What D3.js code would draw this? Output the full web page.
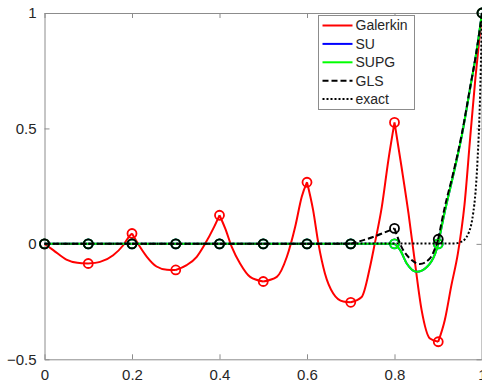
<!DOCTYPE html>
<html>
<head>
<meta charset="utf-8">
<script src="https://cdn.jsdelivr.net/npm/d3@7"></script>
<style>
    html, body { margin: 0; padding: 0; background: #fff; overflow: hidden; }
    svg { display: block; font-family: "Liberation Sans", Arial, Helvetica, sans-serif; }
</style>
</head>
<body>
<svg id="chart"></svg>
<script>
const WIDTH = 482;
const HEIGHT = 385;

// nodes of the mesh
const nodes = [0, 0.1, 0.2, 0.3, 0.4, 0.5, 0.6, 0.7, 0.8, 0.9, 1];

// nodal values
const galerkinNodes = [0, -0.085, 0.045, -0.113, 0.124, -0.163, 0.267, -0.253, 0.526, -0.424, 1];
const suNodes = [0, 0, 0, 0, 0, 0, 0, 0, 0, 0, 1];
const supgNodes = [0, 0, 0, 0, 0, 0, 0, 0, 0, 0, 1];
const glsNodes = [0, 0, 0, 0, 0, 0, 0, 0, 0.067, 0.02, 1];

// curves between the nodes, [x, y]
const galerkinCurve = [
    [0, 0], [0.02, -0.027], [0.05, -0.068], [0.075, -0.082], [0.1, -0.085],
    [0.127, -0.078], [0.157, -0.049], [0.18, -0.006], [0.195, 0.036], [0.2, 0.045],
    [0.211, 0.009], [0.234, -0.056], [0.256, -0.098], [0.28, -0.112], [0.3, -0.113],
    [0.325, -0.092], [0.348, -0.056], [0.367, 0], [0.386, 0.067], [0.4, 0.124],
    [0.413, 0.067], [0.428, -0.013], [0.447, -0.085], [0.47, -0.143], [0.5, -0.163],
    [0.531, -0.143], [0.554, -0.056], [0.573, 0.074], [0.588, 0.204], [0.6, 0.267],
    [0.614, 0.146], [0.626, 0.002], [0.641, -0.128], [0.66, -0.215], [0.683, -0.25], [0.7, -0.253],
    [0.725, -0.23], [0.744, -0.1], [0.755, 0.002], [0.771, 0.16], [0.786, 0.363], [0.8, 0.526],
    [0.816, 0.334], [0.832, 0.132], [0.847, -0.085], [0.862, -0.287], [0.881, -0.41], [0.9, -0.424],
    [0.915, -0.33], [0.93, -0.18], [0.945, -0.04], [0.96, 0.17], [0.973, 0.46], [0.985, 0.72], [1, 1]
];
const supgCurve = [
    [0, 0], [0.1, 0], [0.2, 0], [0.3, 0], [0.4, 0], [0.5, 0], [0.6, 0], [0.7, 0], [0.8, 0],
    [0.813, -0.027], [0.828, -0.085], [0.851, -0.121], [0.874, -0.1], [0.893, -0.042], [0.9, 0],
    [0.915, 0.14], [0.934, 0.295], [0.954, 0.47], [0.973, 0.675], [0.988, 0.84], [1, 1]
];
const suCurve = supgCurve;
const glsCurve = [
    [0, 0], [0.1, 0], [0.2, 0], [0.3, 0], [0.4, 0], [0.5, 0], [0.6, 0], [0.7, 0],
    [0.751, 0.03], [0.8, 0.067],
    [0.816, -0.013], [0.835, -0.063], [0.858, -0.087], [0.881, -0.063], [0.9, 0.02],
    [0.915, 0.16], [0.934, 0.305], [0.954, 0.478], [0.973, 0.68], [0.988, 0.84], [1, 1]
];
const exactCurve = [
    [0, 0], [0.94, 0.002], [0.95, 0.007], [0.96, 0.018], [0.97, 0.05], [0.975, 0.08],
    [0.98, 0.135], [0.985, 0.22], [0.99, 0.37], [0.995, 0.6], [1, 1]
];

const xTicks = [0, 0.2, 0.4, 0.6, 0.8, 1];
const yTicks = [-0.5, 0, 0.5, 1];
const legendLabels = ['Galerkin', 'SU', 'SUPG', 'GLS', 'exact'];

const LEFT = 44.5, RIGHT = 482, TOP = 13, BOTTOM = 359.3;

const svg = d3.select('#chart')
    .attr('width', WIDTH)
    .attr('height', HEIGHT);

const xScale = d3.scaleLinear().domain([0, 1]).range([LEFT, RIGHT]);
const yScale = d3.scaleLinear().domain([-0.5, 1]).range([BOTTOM, TOP]);

const AXIS_COLOR = '#8c8c8c';
const TEXT_COLOR = '#262626';

// box with inside ticks
const axes = svg.append('g');
function styleAxis(g) {
    g.select('.domain').attr('stroke', AXIS_COLOR);
    g.selectAll('.tick line').attr('stroke', AXIS_COLOR);
    g.selectAll('.tick text').attr('fill', TEXT_COLOR).style('font-size', '15px');
}
axes.append('g')
    .attr('transform', 'translate(0,' + BOTTOM + ')')
    .call(d3.axisBottom(xScale).tickValues(xTicks).tickSizeInner(-5).tickSizeOuter(0).tickPadding(10)
        .tickFormat(d3.format('')))
    .call(styleAxis)
    .attr('font-family', null);
axes.append('g')
    .attr('transform', 'translate(' + LEFT + ',0)')
    .call(d3.axisLeft(yScale).tickValues(yTicks).tickSizeInner(-5).tickSizeOuter(0).tickPadding(8)
        .tickFormat(d3.format('')))
    .call(styleAxis)
    .attr('font-family', null);
axes.append('g')
    .attr('transform', 'translate(0,' + TOP + ')')
    .call(d3.axisTop(xScale).tickValues(xTicks).tickSizeInner(-5).tickSizeOuter(0).tickFormat(''))
    .call(styleAxis);
axes.append('g')
    .attr('transform', 'translate(' + (RIGHT - 0.5) + ',0)')
    .call(d3.axisRight(yScale).tickValues(yTicks).tickSizeInner(-5).tickSizeOuter(0).tickFormat(''))
    .call(styleAxis);

// one smooth piece per element, so peaks keep their corners
function elementPath(points) {
    const line = d3.line()
        .x(d => xScale(d[0]))
        .y(d => yScale(d[1]))
        .curve(d3.curveMonotoneX);
    let d = '';
    for (let i = 0; i < nodes.length - 1; i++) {
        const a = nodes[i], b = nodes[i + 1];
        const seg = points.filter(p => p[0] >= a - 1e-9 && p[0] <= b + 1e-9);
        if (seg.length > 1) d += line(seg);
    }
    return d;
}

const series = [
    { name: 'Galerkin', curve: galerkinCurve, marks: galerkinNodes, color: '#ff0000', dash: null },
    { name: 'SU', curve: suCurve, marks: suNodes, color: '#0000ff', dash: null },
    { name: 'SUPG', curve: supgCurve, marks: supgNodes, color: '#00ff00', dash: null },
    { name: 'GLS', curve: glsCurve, marks: glsNodes, color: '#000000', dash: '6,3' }
];

const plot = svg.append('g');
series.forEach(s => {
    plot.append('path')
        .attr('d', elementPath(s.curve))
        .attr('fill', 'none')
        .attr('stroke', s.color)
        .attr('stroke-width', 2)
        .attr('stroke-dasharray', s.dash);
    plot.selectAll(null)
        .data(s.marks)
        .join('circle')
        .attr('cx', (d, i) => xScale(nodes[i]))
        .attr('cy', d => yScale(d))
        .attr('r', 4.5)
        .attr('fill', 'none')
        .attr('stroke', s.color)
        .attr('stroke-width', 1.8);
});

const exactLine = d3.line()
    .x(d => xScale(d[0]))
    .y(d => yScale(d[1]))
    .curve(d3.curveMonotoneX);
plot.append('path')
    .attr('d', exactLine(exactCurve))
    .attr('fill', 'none')
    .attr('stroke', '#000')
    .attr('stroke-width', 2)
    .attr('stroke-dasharray', '2,2');

// legend
const legend = svg.append('g').attr('transform', 'translate(318.5,15.5)');
legend.append('rect')
    .attr('width', 96)
    .attr('height', 94)
    .attr('fill', '#fff')
    .attr('stroke', AXIS_COLOR);
const legendStyles = [
    { color: '#ff0000', dash: null },
    { color: '#0000ff', dash: null },
    { color: '#00ff00', dash: null },
    { color: '#000000', dash: '6,3' },
    { color: '#000000', dash: '2,2' }
];
legendLabels.forEach((label, i) => {
    const y = 10 + i * 18.4;
    legend.append('line')
        .attr('x1', 4).attr('x2', 34)
        .attr('y1', y).attr('y2', y)
        .attr('stroke', legendStyles[i].color)
        .attr('stroke-width', 2)
        .attr('stroke-dasharray', legendStyles[i].dash);
    legend.append('text')
        .attr('x', 37)
        .attr('y', y)
        .attr('dy', '0.35em')
        .attr('fill', TEXT_COLOR)
        .style('font-size', '14px')
        .text(label);
});
</script>
</body>
</html>
